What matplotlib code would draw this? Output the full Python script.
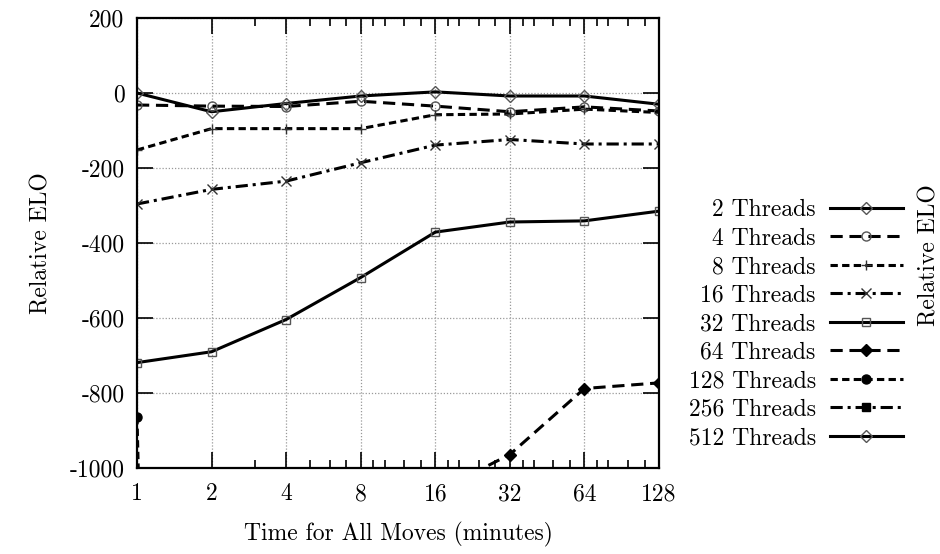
import numpy as np
import matplotlib
matplotlib.use('Agg')
import matplotlib.pyplot as plt
from matplotlib.ticker import FixedLocator, NullFormatter

plt.rcParams['font.family'] = ['cmr10', 'DejaVu Serif']
plt.rcParams['axes.unicode_minus'] = False
plt.rcParams['axes.formatter.use_mathtext'] = True

# data (series below -1000 are not visible)
minutes = [1, 2, 4, 8, 16, 32, 64, 128]
t2 = [0, -50, -28, -8, 3, -8, -8, -30]
t4 = [-32, -35, -36, -22, -35, -50, -37, -48]
t8 = [-152, -95, -95, -95, -58, -56, -43, -52]
t16 = [-296, -257, -235, -186, -139, -124, -136, -136]
t32 = [-719, -690, -604, -492, -371, -344, -341, -315]
t64 = [-2100, -1800, -1500, -1250, -1065, -964, -788, -773]
t128 = [-864, -9000, -8800, -8500, -8200, -8000, -7800, -7600]
t256 = [-9500, -9400, -9300, -9200, -9100, -9000, -8900, -8800]
t512 = [-9900, -9800, -9700, -9600, -9500, -9400, -9300, -9200]
labels = ['2 Threads', '4 Threads', '8 Threads', '16 Threads', '32 Threads',
          '64 Threads', '128 Threads', '256 Threads', '512 Threads']
yticks = [200, 0, -200, -400, -600, -800, -1000]
minor_x = [3, 5, 6, 7, 9, 10, 12, 14, 18, 20, 24, 28, 36, 40, 48, 56,
           72, 80, 96, 112]

FS = 17

long_dash = (0, (4, 2.2))
short_dash = (0, (2.4, 1.4))
dash_dot = (0, (4, 1.6, 1, 1.6))
styles = [
    ('-', 'D', 'none'),
    (long_dash, 'o', 'none'),
    (short_dash, '+', 'none'),
    (dash_dot, 'x', 'none'),
    ('-', 's', 'none'),
    (long_dash, 'D', 'black'),
    (short_dash, 'o', 'black'),
    (dash_dot, 's', 'black'),
    ('-', 'D', 'none'),
]
series = [t2, t4, t8, t16, t32, t64, t128, t256, t512]

fig = plt.figure(figsize=(9.4, 5.54), dpi=100)
ax = fig.add_axes([137/940, 1 - 468/554, (659 - 137)/940, (468 - 18)/554])

for vals, lab, (ls, mk, fc) in zip(series, labels, styles):
    ec = '#555555' if fc == 'none' else 'black'
    ms = 6 if mk in 'Ds' else 6.5
    if mk in '+x':
        ec = '#333333'
        ms = 7
    ax.plot(minutes, vals, linestyle=ls, color='black', linewidth=2.2,
            marker=mk, markersize=ms, markerfacecolor=fc,
            markeredgecolor=ec, markeredgewidth=1.0, label=lab, clip_on=True)

ax.set_xscale('log', base=2)
ax.set_xlim(1, 128)
ax.set_ylim(-1000, 200)
ax.xaxis.set_major_locator(FixedLocator(minutes))
ax.set_xticklabels([str(m) for m in minutes])
ax.xaxis.set_minor_locator(FixedLocator(minor_x))
ax.xaxis.set_minor_formatter(NullFormatter())
ax.set_yticks(yticks)
ax.set_yticklabels([str(v) for v in yticks])

ax.grid(True, which='major', linestyle=(0, (1, 1.5)), color='#999999',
        linewidth=0.9)
ax.tick_params(which='both', direction='in', top=True, right=True,
               labelsize=FS, color='black', width=1.2)
ax.tick_params(which='major', length=11.5, pad=9)
ax.tick_params(which='minor', length=5.5)
ax.tick_params(axis='x', which='major', pad=11)
for sp in ax.spines.values():
    sp.set_linewidth(1.6)

ax.set_xlabel('Time for All Moves (minutes)', fontsize=FS, labelpad=12)
ax.set_ylabel('Relative ELO', fontsize=FS, labelpad=12)
fig.text(929/940, 1 - 255/554, 'Relative ELO', rotation=90, fontsize=FS,
         ha='center', va='center')

leg = ax.legend(loc='upper right', bbox_to_anchor=(903/940, 1 - 199/554),
                bbox_transform=fig.transFigure, frameon=False,
                markerfirst=False, fontsize=FS, handlelength=3.1,
                handletextpad=0.6, labelspacing=0.27, borderpad=0,
                borderaxespad=0, numpoints=1)

fig.savefig('out.png', dpi=100)
